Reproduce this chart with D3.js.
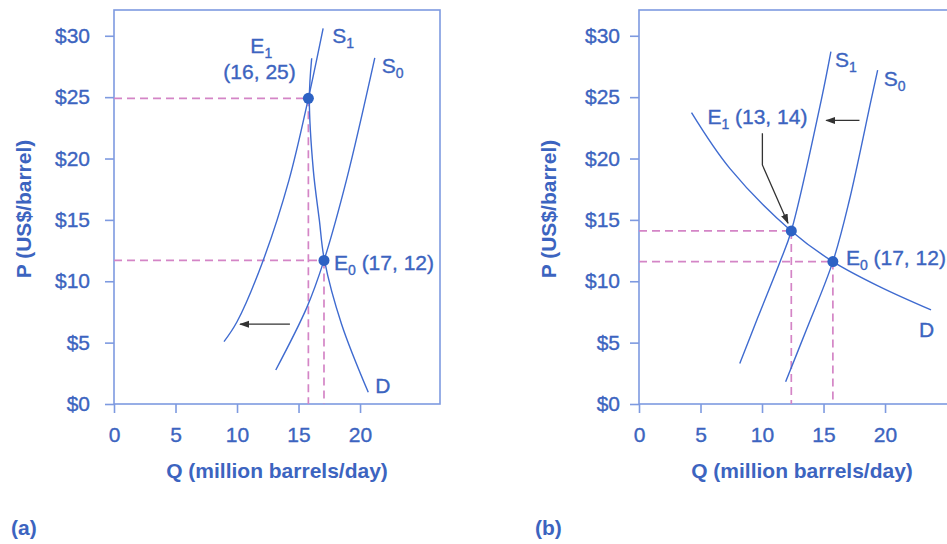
<!DOCTYPE html>
<html>
<head>
<meta charset="utf-8">
<script src="https://cdn.jsdelivr.net/npm/d3@7"></script>
<style>
body { margin: 0; background: #fff; }
text { font-family: "Liberation Sans", Arial, sans-serif; }
</style>
</head>
<body>
<svg id="chart"></svg>
<script>
// oil market supply and demand, two panels

// tick values
var priceTicks = [0, 5, 10, 15, 20, 25, 30];
var qtyTicks = [0, 5, 10, 15, 20];

// panel (a) curves, [quantity, price]
var aSupply0 = [[13.15, 2.77], [15.67, 7.85], [17.07, 11.7], [18.9, 18.26], [21.2, 28.2]];
var aSupply1 = [[8.94, 5.08], [10.0, 6.7], [12.14, 11.74], [14.23, 18.26], [15.8, 24.9], [17.0, 30.6]];
var aDemand = [[20.67, 0.95], [18.5, 6.5], [17.1, 11.74], [16.69, 15.0], [16.2, 19.07], [15.88, 24.84], [16.07, 28.17]];
var aPoints = [[17.07, 11.7], [15.8, 24.9]];
var aShift = [[14.3, 6.5], [10.25, 6.5]];

// panel (b) curves
var bSupply0 = [[11.92, 1.82], [13.6, 6.03], [15.76, 11.6], [17.1, 16.6], [18.87, 24.78], [19.4, 27.2]];
var bSupply1 = [[8.19, 3.3], [9.68, 7.1], [11.49, 11.65], [12.38, 14.1], [14.82, 24.78], [15.6, 28.7]];
var bDemand = [[4.27, 23.74], [7.38, 19.2], [12.38, 14.1], [15.76, 11.6], [19.55, 9.56], [23.74, 7.66]];
var bPoints = [[15.76, 11.6], [12.38, 14.1]];
var bShift = [[17.92, 23.1], [15.22, 23.1]];
var bPointer = [[10.03, 22.06], [10.03, 19.48], [12.11, 14.73]];

// label texts
var aE1 = "(16, 25)";
var aE0 = " (17, 12)";
var bE1 = " (13, 14)";
var bE0 = " (17, 12)";

var frameColor = "#7e9ae0";
var curveColor = "#3f6bd0";
var textColor = "#3c64c0";
var dotColor = "#2d62c4";
var dashColor = "#d485c6";

var W = 947, H = 544;
var plotW = 326, plotTop = 10, plotBottom = 404;

var svg = d3.select("#chart")
.attr("width", W)
.attr("height", H);

var defs = svg.append("defs");
defs.append("marker")
.attr("id", "head")
.attr("viewBox", "0 0 10 10")
.attr("refX", 9)
.attr("refY", 5)
.attr("markerWidth", 10)
.attr("markerHeight", 10)
.attr("markerUnits", "userSpaceOnUse")
.attr("orient", "auto")
.append("path")
.attr("d", "M0,1.5 L10,5 L0,8.5 z")
.attr("fill", "#333");

// regular text is drawn a touch heavier, like the source
function ink(t) {
	return t.attr("fill", textColor)
	.attr("stroke", textColor)
	.attr("stroke-width", 0.35)
	.style("font-size", "21px");
}

// text with a subscript
function subLabel(g, px, py, main, sub, rest) {
	var t = ink(g.append("text")
	.attr("x", px)
	.attr("y", py));
	t.append("tspan").text(main);
	t.append("tspan").text(sub).attr("dy", 5).style("font-size", "14px");
	if (rest) t.append("tspan").text(rest).attr("dy", -5);
	return t;
}

function drawPanel(cfg) {
	var g = svg.append("g");

	var x = d3.scaleLinear().domain([0, 26.5]).range([cfg.left, cfg.left + plotW]);
	var y = d3.scaleLinear().domain([0, 32.1]).range([plotBottom, plotTop]);

	// frame
	g.append("rect")
	.attr("x", cfg.left)
	.attr("y", plotTop)
	.attr("width", plotW)
	.attr("height", plotBottom - plotTop)
	.attr("fill", "none")
	.attr("stroke", frameColor)
	.attr("stroke-width", 1.6);

	// y axis
	var yAxis = g.append("g")
	.attr("transform", "translate(" + cfg.left + ",0)")
	.call(d3.axisLeft(y).tickValues(priceTicks).tickFormat(function(d){ return "$" + d; }).tickSize(9).tickPadding(cfg.yPad))
	.attr("font-family", null)
	.attr("font-size", null);
	yAxis.select(".domain").remove();
	yAxis.selectAll("line").attr("stroke", frameColor).attr("stroke-width", 1.6);
	ink(yAxis.selectAll("text"));

	// x axis
	var xAxis = g.append("g")
	.attr("transform", "translate(0," + plotBottom + ")")
	.call(d3.axisBottom(x).tickValues(qtyTicks).tickSize(9).tickPadding(14))
	.attr("font-family", null)
	.attr("font-size", null);
	xAxis.select(".domain").remove();
	xAxis.selectAll("line").attr("stroke", frameColor).attr("stroke-width", 1.6);
	ink(xAxis.selectAll("text"));

	// axis titles
	g.append("text")
	.attr("x", cfg.left + plotW / 2)
	.attr("y", 478)
	.attr("text-anchor", "middle")
	.attr("fill", textColor)
	.style("font-size", "21px")
	.style("font-weight", "bold")
	.text("Q (million barrels/day)");

	g.append("text")
	.attr("transform", "translate(" + (cfg.left - 83) + "," + ((plotTop + plotBottom) / 2 + 2) + ")rotate(-90)")
	.attr("text-anchor", "middle")
	.attr("fill", textColor)
	.style("font-size", "21px")
	.style("font-weight", "bold")
	.text("P (US$/barrel)");

	// panel letter
	g.append("text")
	.attr("x", cfg.left - cfg.letterOff)
	.attr("y", 535)
	.attr("fill", textColor)
	.style("font-size", "21px")
	.style("font-weight", "bold")
	.text(cfg.letter);

	// dashed guides
	cfg.points.forEach(function(p){
		g.append("line")
		.attr("x1", x(0)).attr("x2", x(p[0]))
		.attr("y1", y(p[1])).attr("y2", y(p[1]))
		.attr("stroke", dashColor).attr("stroke-width", 1.7).attr("stroke-dasharray", "8,5");
		g.append("line")
		.attr("x1", x(p[0])).attr("x2", x(p[0]))
		.attr("y1", y(p[1])).attr("y2", y(0))
		.attr("stroke", dashColor).attr("stroke-width", 1.7).attr("stroke-dasharray", "8,5");
	});

	var line = d3.line()
	.x(function(d){ return x(d[0]); })
	.y(function(d){ return y(d[1]); })
	.curve(d3.curveCatmullRom.alpha(0.5));

	// curves
	g.selectAll(".curve")
	.data(cfg.curves)
	.enter()
	.append("path")
	.attr("class", "curve")
	.attr("d", line)
	.attr("fill", "none")
	.attr("stroke", curveColor)
	.attr("stroke-width", 1.4);

	// shift arrows
	cfg.arrows.forEach(function(a){
		g.append("path")
		.attr("d", d3.line().x(function(d){ return x(d[0]); }).y(function(d){ return y(d[1]); })(a))
		.attr("fill", "none")
		.attr("stroke", "#333")
		.attr("stroke-width", 1.3)
		.attr("marker-end", "url(#head)");
	});

	// equilibrium dots
	g.selectAll(".dot")
	.data(cfg.points)
	.enter()
	.append("circle")
	.attr("class", "dot")
	.attr("cx", function(d){ return x(d[0]); })
	.attr("cy", function(d){ return y(d[1]); })
	.attr("r", 5.5)
	.attr("fill", dotColor);

	return {g: g, x: x, y: y};
}

function at(p, d, dx, dy) { return [p.x(d[0]) + dx, p.y(d[1]) + dy]; }
var s;

// panel (a)
var pa = drawPanel({
	left: 114, yPad: 15, letter: "(a)", letterOff: 103,
	curves: [aSupply0, aSupply1, aDemand],
	points: aPoints,
	arrows: [aShift]
});
s = at(pa, aSupply1[aSupply1.length - 1], 9, 15); subLabel(pa.g, s[0], s[1], "S", "1");
s = at(pa, aSupply0[aSupply0.length - 1], 7, 15); subLabel(pa.g, s[0], s[1], "S", "0");
s = at(pa, aDemand[0], 7, 1); subLabel(pa.g, s[0], s[1], "D", "");
s = at(pa, aPoints[0], 10, 10); subLabel(pa.g, s[0], s[1], "E", "0", aE0);
s = at(pa, aPoints[1], -58, -45); subLabel(pa.g, s[0], s[1], "E", "1");
s = at(pa, aPoints[1], -85, -19);
ink(pa.g.append("text").attr("x", s[0]).attr("y", s[1])).text(aE1);

// panel (b)
var pb = drawPanel({
	left: 639, yPad: 10, letter: "(b)", letterOff: 104,
	curves: [bSupply0, bSupply1, bDemand],
	points: bPoints,
	arrows: [bShift, bPointer]
});
s = at(pb, bSupply1[bSupply1.length - 1], 4, 15); subLabel(pb.g, s[0], s[1], "S", "1");
s = at(pb, bSupply0[bSupply0.length - 1], 6, 16); subLabel(pb.g, s[0], s[1], "S", "0");
s = at(pb, bDemand[bDemand.length - 1], -12, 27); subLabel(pb.g, s[0], s[1], "D", "");
s = at(pb, bPoints[0], 13, 3); subLabel(pb.g, s[0], s[1], "E", "0", bE0);
s = at(pb, bPointer[0], -55, -9); subLabel(pb.g, s[0], s[1], "E", "1", bE1);
</script>
</body>
</html>
